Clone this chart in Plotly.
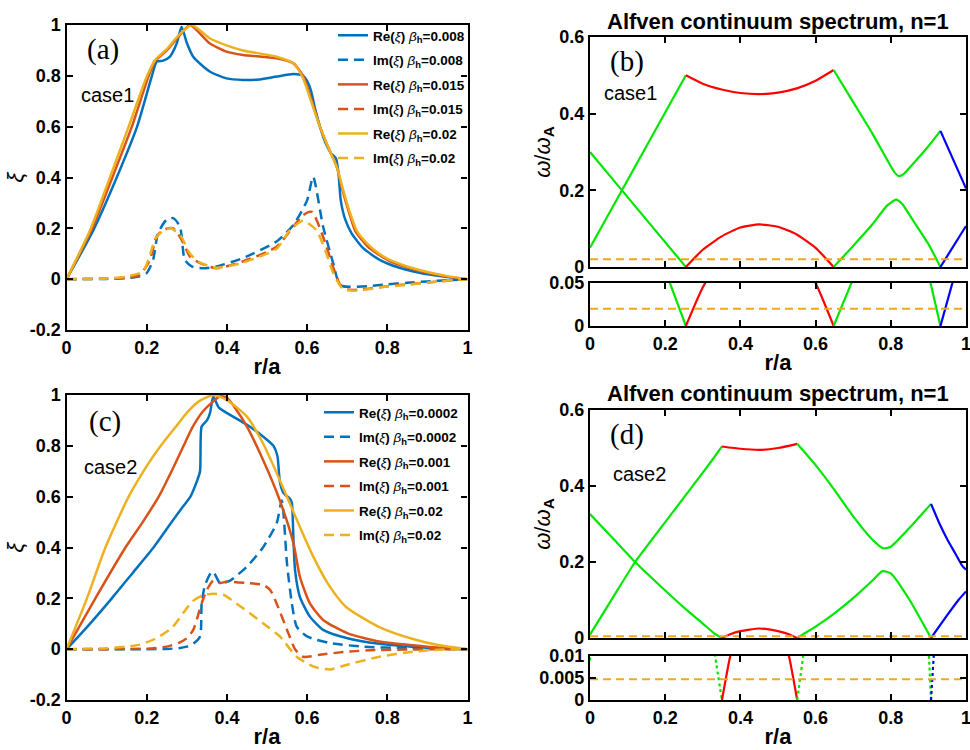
import plotly.graph_objects as go

W, H = 970, 750
# ---------------- data: panel (a) case1 ----------------
a_re1_r = [0, 0.067, 0.126, 0.176, 0.213, 0.225, 0.241, 0.258, 0.275, 0.287, 0.3, 0.316, 0.357, 0.399, 0.44, 0.482, 0.524, 0.566, 0.59, 0.6, 0.61, 0.62, 0.632, 0.645, 0.66, 0.672, 0.678, 0.684, 0.695, 0.711, 0.74, 0.782, 0.83, 0.88, 0.94, 1]
a_re1 = [0, 0.193, 0.403, 0.6, 0.8, 0.856, 0.86, 0.876, 0.928, 0.993, 0.93, 0.875, 0.817, 0.79, 0.784, 0.786, 0.797, 0.807, 0.8, 0.78, 0.74, 0.67, 0.6, 0.54, 0.495, 0.475, 0.42, 0.31, 0.235, 0.18, 0.122, 0.075, 0.045, 0.025, 0.01, 0]
a_im1_r = [0, 0.1, 0.15, 0.18, 0.2, 0.216, 0.228, 0.249, 0.266, 0.283, 0.295, 0.312, 0.341, 0.374, 0.44, 0.524, 0.566, 0.6, 0.615, 0.64, 0.665, 0.682, 0.706, 0.75, 0.8, 0.85, 0.9, 0.95, 1]
a_im1 = [0, 0.001, 0.004, 0.01, 0.024, 0.076, 0.18, 0.233, 0.24, 0.207, 0.076, 0.05, 0.043, 0.05, 0.083, 0.148, 0.214, 0.31, 0.403, 0.206, 0.063, -0.024, -0.03, -0.028, -0.02, -0.014, -0.009, -0.004, 0]
a_re2_r = [0, 0.062, 0.115, 0.163, 0.205, 0.222, 0.25, 0.28, 0.308, 0.357, 0.399, 0.44, 0.524, 0.566, 0.59, 0.61, 0.632, 0.655, 0.674, 0.69, 0.705, 0.72, 0.75, 0.78, 0.807, 0.85, 0.9, 0.95, 1]
a_re2 = [0, 0.193, 0.403, 0.6, 0.8, 0.86, 0.9, 0.955, 1.0, 0.928, 0.895, 0.882, 0.869, 0.849, 0.8, 0.71, 0.6, 0.51, 0.442, 0.34, 0.26, 0.19, 0.13, 0.095, 0.07, 0.046, 0.025, 0.01, 0]
a_im2_r = [0, 0.1, 0.15, 0.183, 0.208, 0.225, 0.241, 0.266, 0.287, 0.308, 0.333, 0.374, 0.44, 0.524, 0.59, 0.612, 0.64, 0.665, 0.682, 0.699, 0.726, 0.78, 0.85, 0.92, 1]
a_im2 = [0, 0.002, 0.006, 0.017, 0.076, 0.168, 0.194, 0.2, 0.155, 0.089, 0.063, 0.043, 0.07, 0.128, 0.252, 0.265, 0.166, 0.047, -0.02, -0.04, -0.042, -0.032, -0.02, -0.01, 0]
a_re3_r = [0, 0.059, 0.109, 0.155, 0.2, 0.221, 0.25, 0.28, 0.312, 0.357, 0.399, 0.44, 0.524, 0.566, 0.59, 0.61, 0.632, 0.655, 0.674, 0.69, 0.705, 0.724, 0.75, 0.78, 0.807, 0.85, 0.9, 0.95, 1]
a_re3 = [0, 0.193, 0.403, 0.6, 0.796, 0.862, 0.905, 0.96, 1.0, 0.948, 0.92, 0.9, 0.875, 0.849, 0.79, 0.7, 0.6, 0.51, 0.442, 0.35, 0.27, 0.19, 0.14, 0.1, 0.075, 0.05, 0.028, 0.012, 0]
a_im3_r = [0, 0.1, 0.15, 0.191, 0.205, 0.222, 0.24, 0.26, 0.285, 0.308, 0.333, 0.374, 0.44, 0.524, 0.557, 0.59, 0.623, 0.648, 0.665, 0.69, 0.726, 0.78, 0.85, 0.92, 1]
a_im3 = [0, 0.003, 0.01, 0.03, 0.08, 0.16, 0.19, 0.2, 0.17, 0.1, 0.065, 0.045, 0.065, 0.12, 0.193, 0.23, 0.193, 0.102, 0.024, -0.04, -0.045, -0.033, -0.022, -0.01, 0]

# ---------------- data: panel (c) case2 ----------------
c_re1_r = [0, 0.05, 0.113, 0.165, 0.217, 0.26, 0.29, 0.309, 0.325, 0.333, 0.337, 0.35, 0.358, 0.366, 0.38, 0.408, 0.45, 0.49, 0.516, 0.526, 0.532, 0.541, 0.558, 0.562, 0.566, 0.57, 0.582, 0.607, 0.64, 0.698, 0.78, 0.86, 0.93, 1]
c_re1 = [0, 0.085, 0.2, 0.3, 0.4, 0.495, 0.56, 0.6, 0.66, 0.7, 0.876, 0.9, 0.93, 0.994, 0.95, 0.922, 0.883, 0.837, 0.8, 0.76, 0.66, 0.615, 0.59, 0.575, 0.43, 0.31, 0.206, 0.128, 0.076, 0.044, 0.021, 0.01, 0.003, 0]
c_im1_r = [0, 0.2, 0.25, 0.28, 0.3, 0.315, 0.333, 0.337, 0.345, 0.36, 0.366, 0.383, 0.408, 0.45, 0.49, 0.524, 0.537, 0.55, 0.562, 0.574, 0.6, 0.657, 0.74, 0.85, 1]
c_im1 = [0, 0.0, 0.001, 0.004, 0.01, 0.02, 0.05, 0.18, 0.25, 0.3, 0.305, 0.26, 0.27, 0.325, 0.4, 0.495, 0.585, 0.334, 0.18, 0.089, 0.05, 0.024, 0.01, 0.004, 0]
c_re2_r = [0, 0.072, 0.147, 0.19, 0.23, 0.262, 0.292, 0.313, 0.34, 0.366, 0.383, 0.4, 0.42, 0.45, 0.49, 0.532, 0.566, 0.582, 0.607, 0.64, 0.7, 0.78, 0.9, 1]
c_re2 = [0, 0.2, 0.4, 0.5, 0.6, 0.7, 0.8, 0.87, 0.935, 0.975, 0.995, 0.99, 0.95, 0.876, 0.745, 0.585, 0.416, 0.285, 0.18, 0.115, 0.063, 0.03, 0.01, 0]
c_im2_r = [0, 0.2, 0.25, 0.28, 0.3, 0.316, 0.337, 0.35, 0.366, 0.383, 0.4, 0.45, 0.49, 0.508, 0.524, 0.55, 0.57, 0.59, 0.632, 0.698, 0.78, 1]
c_im2 = [0, 0.002, 0.01, 0.025, 0.043, 0.076, 0.18, 0.233, 0.27, 0.26, 0.266, 0.26, 0.253, 0.233, 0.18, 0.076, 0.0, -0.03, -0.022, -0.01, -0.003, 0]
c_re3_r = [0, 0.051, 0.097, 0.155, 0.2, 0.235, 0.27, 0.3, 0.33, 0.366, 0.4, 0.45, 0.49, 0.532, 0.574, 0.615, 0.657, 0.698, 0.78, 0.864, 0.93, 1]
c_re3 = [0, 0.2, 0.4, 0.6, 0.72, 0.8, 0.87, 0.93, 0.975, 1.0, 0.98, 0.915, 0.81, 0.665, 0.51, 0.365, 0.245, 0.165, 0.087, 0.04, 0.015, 0]
c_im3_r = [0, 0.1, 0.15, 0.18, 0.22, 0.263, 0.313, 0.34, 0.366, 0.391, 0.424, 0.49, 0.532, 0.574, 0.615, 0.657, 0.698, 0.78, 0.864, 0.93, 1]
c_im3 = [0, 0.004, 0.01, 0.017, 0.04, 0.084, 0.187, 0.212, 0.218, 0.214, 0.18, 0.102, 0.05, -0.03, -0.068, -0.08, -0.062, -0.03, -0.01, -0.002, 0]

# ---------------- data: panel (b) continuum case1 ----------------
b_g1_r = [0, 0.085, 0.255]
b_g1 = [0.05, 0.2, 0.5]
b_g2_r = [0, 0.085, 0.255]
b_g2 = [0.3, 0.2, 0.0]
b_r1_r = [0.255, 0.3, 0.35, 0.4, 0.45, 0.5, 0.55, 0.6, 0.648]
b_r1 = [0.5, 0.478, 0.463, 0.454, 0.451, 0.455, 0.466, 0.486, 0.514]
b_r2_r = [0.255, 0.3, 0.35, 0.4, 0.45, 0.5, 0.55, 0.6, 0.648]
b_r2 = [0.0, 0.045, 0.08, 0.103, 0.111, 0.105, 0.085, 0.05, 0.0]
b_g3_r = [0.648, 0.7, 0.75, 0.79, 0.81, 0.821, 0.835, 0.86, 0.9, 0.932]
b_g3 = [0.514, 0.43, 0.35, 0.28, 0.247, 0.237, 0.243, 0.27, 0.315, 0.355]
b_g4_r = [0.648, 0.7, 0.75, 0.79, 0.814, 0.83, 0.86, 0.9, 0.932]
b_g4 = [0.0, 0.055, 0.11, 0.16, 0.176, 0.165, 0.12, 0.06, 0.0]
b_b1_r = [0.932, 1.0]
b_b1 = [0.355, 0.205]
b_b2_r = [0.932, 1.0]
b_b2 = [0.0, 0.107]
b_freq = 0.02

# ---------------- data: panel (d) continuum case2 ----------------
d_g1_r = [0, 0.06, 0.12, 0.2, 0.25, 0.3, 0.33, 0.351]
d_g1 = [0.009, 0.105, 0.2, 0.305, 0.37, 0.435, 0.475, 0.504]
d_g2_r = [0, 0.06, 0.12, 0.2, 0.25, 0.3, 0.333, 0.351]
d_g2 = [0.326, 0.263, 0.2, 0.125, 0.08, 0.038, 0.01, 0.0]
d_r1_r = [0.351, 0.4, 0.45, 0.5, 0.551]
d_r1 = [0.504, 0.498, 0.495, 0.5, 0.511]
d_r2_r = [0.351, 0.373, 0.4, 0.45, 0.5, 0.529, 0.551]
d_r2 = [0.0, 0.01, 0.018, 0.025, 0.018, 0.01, 0.0]
d_g3_r = [0.551, 0.6, 0.65, 0.7, 0.75, 0.78, 0.8, 0.85, 0.907]
d_g3 = [0.511, 0.455, 0.39, 0.32, 0.26, 0.236, 0.24, 0.29, 0.353]
d_g4_r = [0.551, 0.567, 0.6, 0.65, 0.7, 0.75, 0.778, 0.8, 0.85, 0.907]
d_g4 = [0.0, 0.01, 0.03, 0.065, 0.105, 0.15, 0.176, 0.17, 0.1, 0.0]
d_b1_r = [0.907, 0.93, 0.95, 0.97, 0.99, 1.0]
d_b1 = [0.353, 0.3, 0.26, 0.225, 0.19, 0.18]
d_b2_r = [0.907, 0.95, 0.98, 1.0]
d_b2 = [0.0, 0.06, 0.1, 0.1226]
d_freq = 0.0047

# ---------------- labels ----------------
legend_a = ["0.008", "0.008", "0.015", "0.015", "0.02", "0.02"]
legend_c = ["0.0002", "0.0002", "0.001", "0.001", "0.02", "0.02"]
xi_ticks = [-0.2, 0, 0.2, 0.4, 0.6, 0.8, 1]
xi_ticktext = ["-0.2", "0", "0.2", "0.4", "0.6", "0.8", "1"]
r_ticks = [0, 0.2, 0.4, 0.6, 0.8, 1]
r_ticktext = ["0", "0.2", "0.4", "0.6", "0.8", "1"]
w_ticks = [0, 0.2, 0.4, 0.6]
w_ticktext = ["0", "0.2", "0.4", "0.6"]
b_low_ticks = [0, 0.05]
b_low_ticktext = ["0", "0.05"]
d_low_ticks = [0, 0.005, 0.01]
d_low_ticktext = ["0", "0.005", "0.01"]

# ---------------- styles ----------------
C_BLUE, C_ORANGE, C_YELLOW = "#0072BD", "#D95319", "#EDB120"
G, R, B, DASHC = "#00E600", "#FF0000", "#0000FF", "#F2A81D"
LW = 2.5
DASH = "10px,6px"

def px_x(p):
    return p / W

def px_y(p):
    return 1 - p / H

fig = go.Figure()

def leg_text(kind, val):
    return ("<b>%s(</b><i>ξ</i><b>)</b> <i>β</i><sub><b>h</b></sub><b>=%s</b>" % (kind, val))

a_series = [(a_re1_r, a_re1, C_BLUE, "solid", "Re"), (a_im1_r, a_im1, C_BLUE, DASH, "Im"),
            (a_re2_r, a_re2, C_ORANGE, "solid", "Re"), (a_im2_r, a_im2, C_ORANGE, DASH, "Im"),
            (a_re3_r, a_re3, C_YELLOW, "solid", "Re"), (a_im3_r, a_im3, C_YELLOW, DASH, "Im")]
for i, ((xr, yv, col, dash, kind), lab) in enumerate(zip(a_series, legend_a)):
    fig.add_trace(go.Scatter(x=xr, y=yv, mode="lines", line=dict(color=col, width=LW, dash=dash, shape="spline", smoothing=0.6),
                             name=leg_text(kind, lab), legendgroup="a%d" % i, xaxis="x", yaxis="y", legend="legend"))

c_series = [(c_re1_r, c_re1, C_BLUE, "solid", "Re"), (c_im1_r, c_im1, C_BLUE, DASH, "Im"),
            (c_re2_r, c_re2, C_ORANGE, "solid", "Re"), (c_im2_r, c_im2, C_ORANGE, DASH, "Im"),
            (c_re3_r, c_re3, C_YELLOW, "solid", "Re"), (c_im3_r, c_im3, C_YELLOW, DASH, "Im")]
for i, ((xr, yv, col, dash, kind), lab) in enumerate(zip(c_series, legend_c)):
    fig.add_trace(go.Scatter(x=xr, y=yv, mode="lines", line=dict(color=col, width=LW, dash=dash, shape="spline", smoothing=0.6),
                             name=leg_text(kind, lab), legendgroup="c%d" % i, xaxis="x4", yaxis="y4", legend="legend2"))

b_branches = [(b_g1_r, b_g1, G), (b_g2_r, b_g2, G), (b_r1_r, b_r1, R), (b_r2_r, b_r2, R),
              (b_g3_r, b_g3, G), (b_g4_r, b_g4, G), (b_b1_r, b_b1, B), (b_b2_r, b_b2, B)]
d_branches = [(d_g1_r, d_g1, G), (d_g2_r, d_g2, G), (d_r1_r, d_r1, R), (d_r2_r, d_r2, R),
              (d_g3_r, d_g3, G), (d_g4_r, d_g4, G), (d_b1_r, d_b1, B), (d_b2_r, d_b2, B)]

for xa, ya in [("x2", "y2"), ("x3", "y3")]:
    for xr, yv, col in b_branches:
        fig.add_trace(go.Scatter(x=xr, y=yv, mode="lines", line=dict(color=col, width=2.2, shape="spline", smoothing=0.5),
                                 showlegend=False, xaxis=xa, yaxis=ya))
    fig.add_trace(go.Scatter(x=[0, 1], y=[b_freq, b_freq], mode="lines", line=dict(color=DASHC, width=2, dash="8px,5px"),
                             showlegend=False, xaxis=xa, yaxis=ya))

for xa, ya, low in [("x5", "y5", False), ("x6", "y6", True)]:
    for xr, yv, col in d_branches:
        dash = "dot" if (low and col != R) else "solid"
        fig.add_trace(go.Scatter(x=xr, y=yv, mode="lines", line=dict(color=col, width=2.2, dash=dash, shape="spline", smoothing=0.5),
                                 showlegend=False, xaxis=xa, yaxis=ya))
    fig.add_trace(go.Scatter(x=[0, 1], y=[d_freq, d_freq], mode="lines", line=dict(color=DASHC, width=2, dash="8px,5px"),
                             showlegend=False, xaxis=xa, yaxis=ya))

TICKFONT = dict(family="Liberation Sans", size=18, color="black", weight="bold")
TITLEFONT = dict(family="Liberation Sans", size=22, color="black", weight="bold")
YTITLEFONT = dict(family="Liberation Sans", size=22, color="black", weight="normal")

def ax(domain, rng, tickvals, ticktext, showlabels=True, anchor=None, title=None, standoff=2, tfont=TITLEFONT):
    d = dict(domain=domain, range=rng, tickvals=tickvals, ticktext=ticktext, showticklabels=showlabels,
             showline=True, linecolor="black", linewidth=2.2, mirror="ticks", ticks="inside", ticklen=6,
             tickwidth=1.5, tickcolor="black", showgrid=False, zeroline=False, tickfont=TICKFONT,
             anchor=anchor, fixedrange=True, automargin=False, ticklabeloverflow="allow")
    if title is not None:
        d["title"] = dict(text=title, font=tfont, standoff=standoff)
    return d

xa_dom = [px_x(66.5), px_x(467.5)]
xb_dom = [px_x(590), px_x(966)]

XI = "<i>ξ</i>"
WW = "<i>ω</i>/<i>ω</i><sub><b>A</b></sub>"
RA = "r/a"

LEGFONT = dict(family="Liberation Sans", size=13.5, color="black")
fig.update_layout(
    width=W, height=H, margin=dict(l=0, r=0, t=0, b=0, autoexpand=False),
    paper_bgcolor="white", plot_bgcolor="white",
    xaxis=ax(xa_dom, [0, 1], r_ticks, r_ticktext, anchor="y", title=RA),
    yaxis=ax([px_y(330), px_y(25)], [-0.2, 1], xi_ticks, xi_ticktext, anchor="x", title=XI, standoff=0, tfont=YTITLEFONT),
    xaxis2=ax(xb_dom, [0, 1], r_ticks, r_ticktext, showlabels=False, anchor="y2"),
    yaxis2=ax([px_y(267), px_y(37)], [0, 0.6], w_ticks, w_ticktext, anchor="x2", title=WW, standoff=3, tfont=YTITLEFONT),
    xaxis3=ax(xb_dom, [0, 1], r_ticks, r_ticktext, anchor="y3", title=RA),
    yaxis3=ax([px_y(326), px_y(283)], [0, 0.05], b_low_ticks, b_low_ticktext, anchor="x3"),
    xaxis4=ax(xa_dom, [0, 1], r_ticks, r_ticktext, anchor="y4", title=RA),
    yaxis4=ax([px_y(700), px_y(395)], [-0.2, 1], xi_ticks, xi_ticktext, anchor="x4", title=XI, standoff=0, tfont=YTITLEFONT),
    xaxis5=ax(xb_dom, [0, 1], r_ticks, r_ticktext, showlabels=False, anchor="y5"),
    yaxis5=ax([px_y(638), px_y(410)], [0, 0.6], w_ticks, w_ticktext, anchor="x5", title=WW, standoff=3, tfont=YTITLEFONT),
    xaxis6=ax(xb_dom, [0, 1], r_ticks, r_ticktext, anchor="y6", title=RA),
    yaxis6=ax([px_y(700), px_y(656)], [0, 0.01], d_low_ticks, d_low_ticktext, anchor="x6"),
    legend=dict(x=px_x(333), y=px_y(20), xanchor="left", yanchor="top", bgcolor="rgba(0,0,0,0)",
                font=LEGFONT, itemwidth=30, tracegroupgap=4),
    legend2=dict(x=px_x(319), y=px_y(397), xanchor="left", yanchor="top", bgcolor="rgba(0,0,0,0)",
                 font=LEGFONT, itemwidth=30, tracegroupgap=4),
)

ann = []
title_txt = "Alfven continuum spectrum, n=1"
for yy in [22, 393]:
    ann.append(dict(text="<b>%s</b>" % title_txt, x=px_x(778), y=px_y(yy), xref="paper", yref="paper",
                    xanchor="center", yanchor="middle", showarrow=False,
                    font=dict(family="Liberation Sans", size=22, color="black")))
for txt, xx, yy in [("(a)", 103, 49), ("(b)", 627, 61), ("(c)", 105, 421), ("(d)", 627, 435)]:
    ann.append(dict(text=txt, x=px_x(xx), y=px_y(yy), xref="paper", yref="paper", showarrow=False,
                    xanchor="center", yanchor="middle",
                    font=dict(family="Liberation Serif", size=29, color="black")))
for txt, xx, yy in [("case1", 107, 95), ("case1", 630, 93), ("case2", 110, 467), ("case2", 639, 474)]:
    ann.append(dict(text=txt, x=px_x(xx), y=px_y(yy), xref="paper", yref="paper", showarrow=False,
                    xanchor="center", yanchor="middle",
                    font=dict(family="Liberation Sans", size=20, color="black")))
fig.update_layout(annotations=ann)

fig.write_html("out.html")
